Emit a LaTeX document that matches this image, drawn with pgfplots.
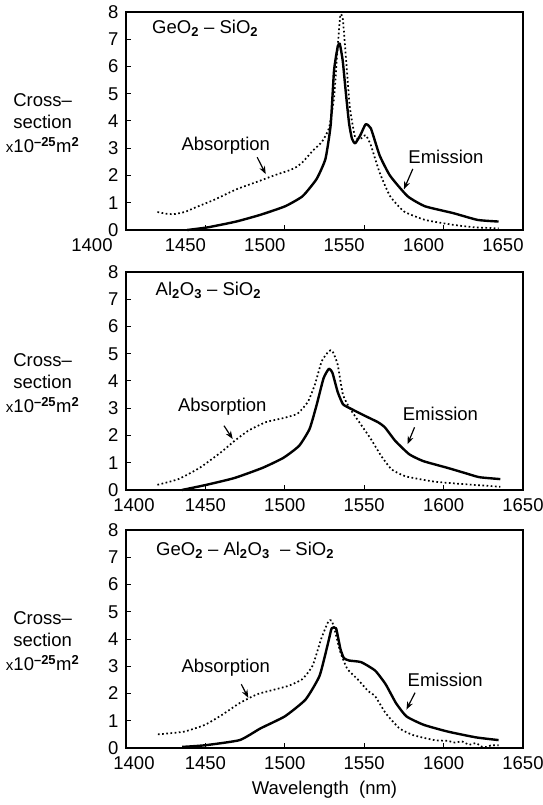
\documentclass[border=0pt]{standalone}
\usepackage{fontspec}
\setmainfont{Liberation Sans}
\usepackage{pgfplots}
\pgfplotsset{compat=1.18}
\usetikzlibrary{arrows.meta}
\newcommand\myfont{\fontsize{18.5}{22}\selectfont}
\newcommand\sub[1]{\textsubscript{\textbf{#1}}}
\pgfplotsset{
  panel/.style={
    width=397pt, height=218pt, scale only axis,
    xmin=1400, xmax=1650, ymin=0, ymax=8,
    xtick={1450,1500,...,1650}, ytick={0,1,...,8},
    extra x ticks={1400},
    tick align=inside, xtick pos=bottom, ytick pos=left,
    major tick length=5pt,
    axis line style={line width=1.3pt},
    every tick/.style={line width=1pt, black},
    tick label style={font=\myfont},
    /pgf/number format/assume math mode=true,
    /pgf/number format/set thousands separator={},
    xticklabel style={yshift=-5pt},
    yticklabel style={xshift=-4pt},
    clip=false,
  },
  em/.style={black, line width=2.4pt, line join=round, smooth, tension=0.3},
  ab/.style={black, line width=1.7pt, dash pattern=on 1.7pt off 2.5pt, smooth, tension=0.3},
}
\tikzset{arr/.style={-{Stealth[length=8pt,width=6pt]}, line width=1.2pt}}
\newcommand\ylab{\node[align=center, font=\myfont] at (rel axis cs:-0.21,0.49) {Cross--\\section\\[2pt]{\fontsize{15}{18}\selectfont x}10\textsuperscript{\textbf{--25}}m\textsuperscript{\textbf{2}}};}
\begin{document}
\begin{tikzpicture}
% Panel 1
\begin{axis}[panel, at={(0,518pt)}, anchor=south west,
  xticklabel style={xshift=-20pt},
  extra x tick style={xticklabel style={xshift=-14pt}}]
\addplot[ab] coordinates {(1419.8,0.66)(1425,0.60)(1430,0.58)(1437,0.66)(1443,0.81)(1456,1.12)(1469.4,1.49)(1482.6,1.77)(1493.6,2.01)(1502.4,2.18)(1507,2.3)(1511.2,2.49)(1517.8,2.92)(1523.3,3.23)(1527.8,3.73)(1531,4.85)(1533.3,6.72)(1535,7.9)(1536.6,7.71)(1538.8,6.09)(1541,4.48)(1544.3,3.4)(1548,3.36)(1551,3.48)(1554.2,3.11)(1559.7,2.11)(1566.3,1.24)(1575.1,0.68)(1588.3,0.37)(1606,0.19)(1619.2,0.1)(1634.6,0.06)};
\addplot[em] coordinates {(1438.5,0)(1451.8,0.1)(1469.4,0.31)(1484.8,0.56)(1500.2,0.87)(1511.2,1.24)(1520,1.87)(1525.6,2.61)(1528.9,3.86)(1531,5.85)(1533.3,6.72)(1534.6,6.84)(1536.5,6.2)(1538.5,5.0)(1540.5,3.9)(1542.3,3.35)(1544.3,3.18)(1547.6,3.48)(1550.9,3.88)(1554.2,3.73)(1559.7,2.74)(1566.3,1.99)(1577.3,1.24)(1588.3,0.87)(1606,0.62)(1621.4,0.37)(1634.6,0.31)};
\node[anchor=west, font=\myfont] at (axis cs:1414.3,7.4) {GeO\sub{2} -- SiO\sub{2}};
\node[font=\myfont] at (axis cs:1462.8,3.11) {Absorption};
\draw[arr] (axis cs:1482.6,2.67) -- (axis cs:1488,2.05);
\node[font=\myfont] at (axis cs:1601.5,2.67) {Emission};
\draw[arr] (axis cs:1580.6,2.24) -- (axis cs:1575,1.49);
\ylab
\end{axis}
% Panel 2
\begin{axis}[panel, at={(0,258pt)}, anchor=south west,
  extra x tick style={xticklabel style={xshift=8pt}}]
\addplot[ab] coordinates {(1419.8,0.19)(1433,0.4)(1446.3,0.81)(1459.5,1.37)(1468.3,1.8)(1477.1,2.18)(1488.1,2.49)(1499.1,2.64)(1508,2.8)(1514.5,3.23)(1518.9,3.86)(1523.3,4.73)(1527.8,5.1)(1530,5.1)(1533.3,4.6)(1536.6,3.5)(1541,2.99)(1547.6,2.43)(1554.2,1.87)(1560.8,1.24)(1567.4,0.75)(1576.2,0.5)(1593.8,0.31)(1611.5,0.22)(1635.7,0.12)};
\addplot[em] coordinates {(1435.2,0)(1450.7,0.19)(1468.3,0.44)(1485.9,0.81)(1499.1,1.18)(1509,1.62)(1515.6,2.24)(1520,3.11)(1524.4,4.1)(1527.8,4.45)(1530,4.3)(1533.3,3.6)(1536.6,3.15)(1541,3.0)(1549.8,2.74)(1558.6,2.49)(1563,2.3)(1569.6,1.8)(1578.4,1.31)(1587.2,1.06)(1602.6,0.81)(1613.6,0.62)(1622.5,0.47)(1635.7,0.4)};
\node[anchor=west, font=\myfont] at (axis cs:1416.5,7.34) {Al\sub{2}O\sub{3} -- SiO\sub{2}};
\node[font=\myfont] at (axis cs:1460.6,3.05) {Absorption};
\draw[arr] (axis cs:1461.7,2.36) -- (axis cs:1467.2,1.87);
\node[font=\myfont] at (axis cs:1598,2.8) {Emission};
\draw[arr] (axis cs:1581.7,2.3) -- (axis cs:1577.3,1.68);
\ylab
\end{axis}
% Panel 3
\begin{axis}[panel, at={(0,0pt)}, anchor=south west,
  extra x tick style={xticklabel style={xshift=8pt}}]
\addplot[ab] coordinates {(1420.1,0.5)(1436.5,0.6)(1449.7,0.85)(1460.6,1.22)(1471.6,1.65)(1482.5,1.97)(1491.2,2.11)(1502.2,2.28)(1510.9,2.52)(1517.5,3.02)(1523,4.02)(1527.4,4.64)(1529.5,4.68)(1531.7,4.27)(1535,3.52)(1539.4,2.9)(1545.9,2.52)(1552.5,2.09)(1556.9,1.9)(1563.5,1.28)(1572.2,0.72)(1581,0.47)(1594.1,0.29)(1602.8,0.26)(1607,0.2)(1611.6,0.24)(1616,0.12)(1620.4,0.18)(1624,0.05)(1627,0.04)(1630,0.1)(1634.6,0.1)};
\addplot[em] coordinates {(1435.4,0.04)(1449.7,0.1)(1471.6,0.29)(1484.7,0.72)(1500,1.16)(1513.1,1.78)(1521.9,2.65)(1527.4,3.89)(1529.5,4.39)(1532.3,4.39)(1535,3.64)(1537.2,3.3)(1540.5,3.21)(1548.1,3.15)(1556.9,2.84)(1563.5,2.34)(1570,1.65)(1576.6,1.16)(1587.5,0.85)(1602.8,0.6)(1620.4,0.39)(1634.6,0.29)};
\node[anchor=west, font=\myfont] at (axis cs:1416.8,7.25) {GeO\sub{2} -- Al\sub{2}O\sub{3} \ -- SiO\sub{2}};
\node[font=\myfont] at (axis cs:1462.8,2.96) {Absorption};
\draw[arr] (axis cs:1472.6,2.34) -- (axis cs:1477,1.84);
\node[font=\myfont] at (axis cs:1601,2.49) {Emission};
\draw[arr] (axis cs:1582,2.03) -- (axis cs:1576.6,1.41);
\ylab
\node[font=\myfont] at (rel axis cs:0.5,0) [yshift=-42pt] {Wavelength \ (nm)};
\end{axis}
\pgfresetboundingbox
\path[use as bounding box] (-126pt,-57pt) rectangle (416pt,748pt);
\end{tikzpicture}
\end{document}
